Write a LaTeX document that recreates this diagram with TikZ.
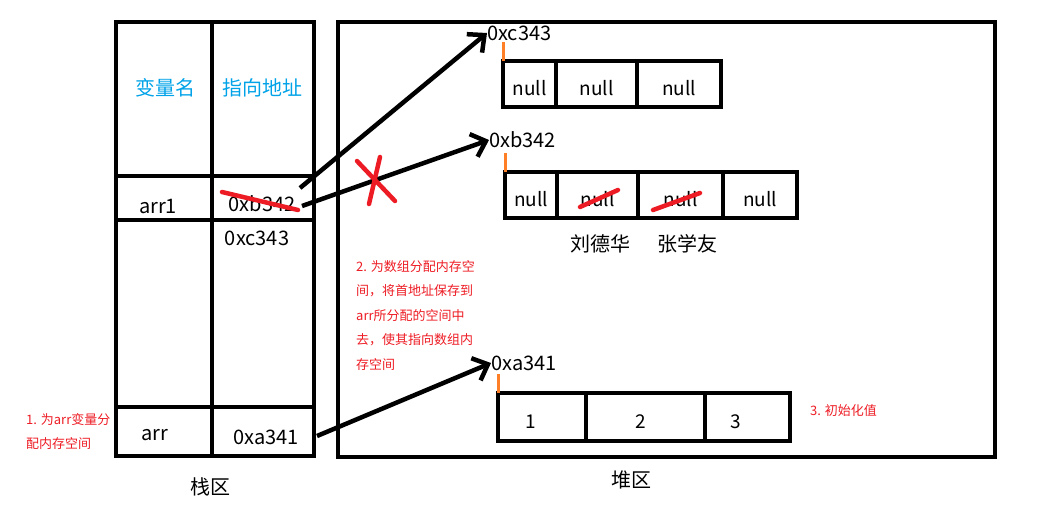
\documentclass[tikz,border=0pt]{standalone}
\usepackage{fontspec}
\setmainfont{Noto Sans CJK SC}
\usetikzlibrary{positioning,arrows.meta}
\definecolor{PaintRed}{HTML}{ED1C24}
\definecolor{PaintBlue}{HTML}{00A2E8}
\definecolor{PaintOrange}{HTML}{FF7F27}

\begin{document}
\begin{tikzpicture}[x=1pt,y=-1pt,
  wall/.style={line width=4.5pt},
  cell/.style={draw,line width=4.5pt,anchor=north west,outer sep=0pt,inner sep=0pt,minimum height=46pt,text height=22pt,text depth=0pt,font=\fontsize{19}{20}\selectfont},
  txt/.style={inner sep=0pt,font=\fontsize{20}{22}\selectfont},
  head/.style={txt,text=PaintBlue},
  note/.style={inner sep=0pt,align=left,anchor=north west,text=PaintRed,font=\fontsize{13}{24.5}\selectfont},
  tick/.style={draw=PaintOrange,line width=3pt},
  arr/.style={-{Straight Barb[length=13pt,width=24pt]},line width=4.5pt},
  cross/.style={draw=PaintRed,line width=4.5pt,line cap=round}
]
\useasboundingbox (0,0) rectangle (1043,509);

% stack area
\draw[wall] (116,22) rectangle (314,456);
\draw[wall] (212,20) -- (212,456);
\draw[wall] (116,176) -- (314,176);
\draw[wall] (116,220) -- (314,220);
\draw[wall] (116,407) -- (314,407);
\node[head] (varname) at (165,88) {变量名};
\node[head] (addrhead) at (262,88) {指向地址};
\node[txt] (arrone) at (158,206) {arr1};
\node[txt] (oldaddr) at (262,204) {0xb342};
\node[txt] (newaddr) at (257,238) {0xc343};
\node[txt] (arrname) at (155,435) {arr};
\node[txt] (arrval) at (266,437) {0xa341};
\node[txt] (stack) at (210,487) {栈区};
\draw[cross] (222,192) -- (298,210);

% heap area
\draw[wall] (338,22) rectangle (995,457);
\node[txt] (heap) at (631,480) {堆区};

% array at 0xc343
\node[txt,anchor=west] (addrC) at (487,33) {0xc343};
\node[cell,minimum width=53pt] (cone) at (503,61) {null};
\node[cell,minimum width=81pt,right=0pt of cone] (ctwo) {null};
\node[cell,minimum width=84pt,right=0pt of ctwo] (cthree) {null};
\draw[tick] (cone.north west) -- ++(0,-19);

% array at 0xb342
\node[txt,anchor=west] (addrB) at (489,140) {0xb342};
\node[cell,minimum width=52pt] (bone) at (505,172) {null};
\node[cell,minimum width=81pt,right=0pt of bone] (btwo) {null};
\node[cell,minimum width=85pt,right=0pt of btwo] (bthree) {null};
\node[cell,minimum width=74pt,right=0pt of bthree] (bfour) {null};
\draw[tick] (bone.north west) -- ++(0,-19);
\draw[cross] (580,207) -- (618,190);
\draw[cross] (653,210) -- (700,193);
\node[txt] (liu) at (600,244) {刘德华};
\node[txt] (zhang) at (687,244) {张学友};

% array at 0xa341
\node[txt,anchor=west] (addrA) at (491,363) {0xa341};
\node[cell,minimum width=88pt,minimum height=48pt] (aone) at (498,393) {1\hspace*{22pt}};
\node[cell,minimum width=119pt,minimum height=48pt,right=0pt of aone] (atwo) {2\hspace*{10pt}};
\node[cell,minimum width=85pt,minimum height=48pt,right=0pt of atwo] (athree) {3\hspace*{24pt}};
\draw[tick] (aone.north west) -- ++(0,-19);

% notes
\node[note] (stepone) at (26,413) {1. 为arr变量分\\配内存空间};
\node[note] (steptwo) at (356,260) {2. 为数组分配内存空\\间，将首地址保存到\\arr所分配的空间中\\去，使其指向数组内\\存空间};
\node[note,anchor=west] (stepthree) at (810,411) {3. 初始化值};

% pointers
\coordinate (fromone) at (300,188);
\coordinate (fromtwo) at (302,206);
\coordinate (fromarr) at (317,436);
\draw[arr] (fromone) -- (addrC.west);
\draw[arr] (fromtwo) -- (addrB.west);
\draw[arr] (fromarr) -- (addrA.west);
\draw[cross] (357,161) -- (395,201);
\draw[cross] (380,157) -- (369,204);
\end{tikzpicture}
\end{document}
